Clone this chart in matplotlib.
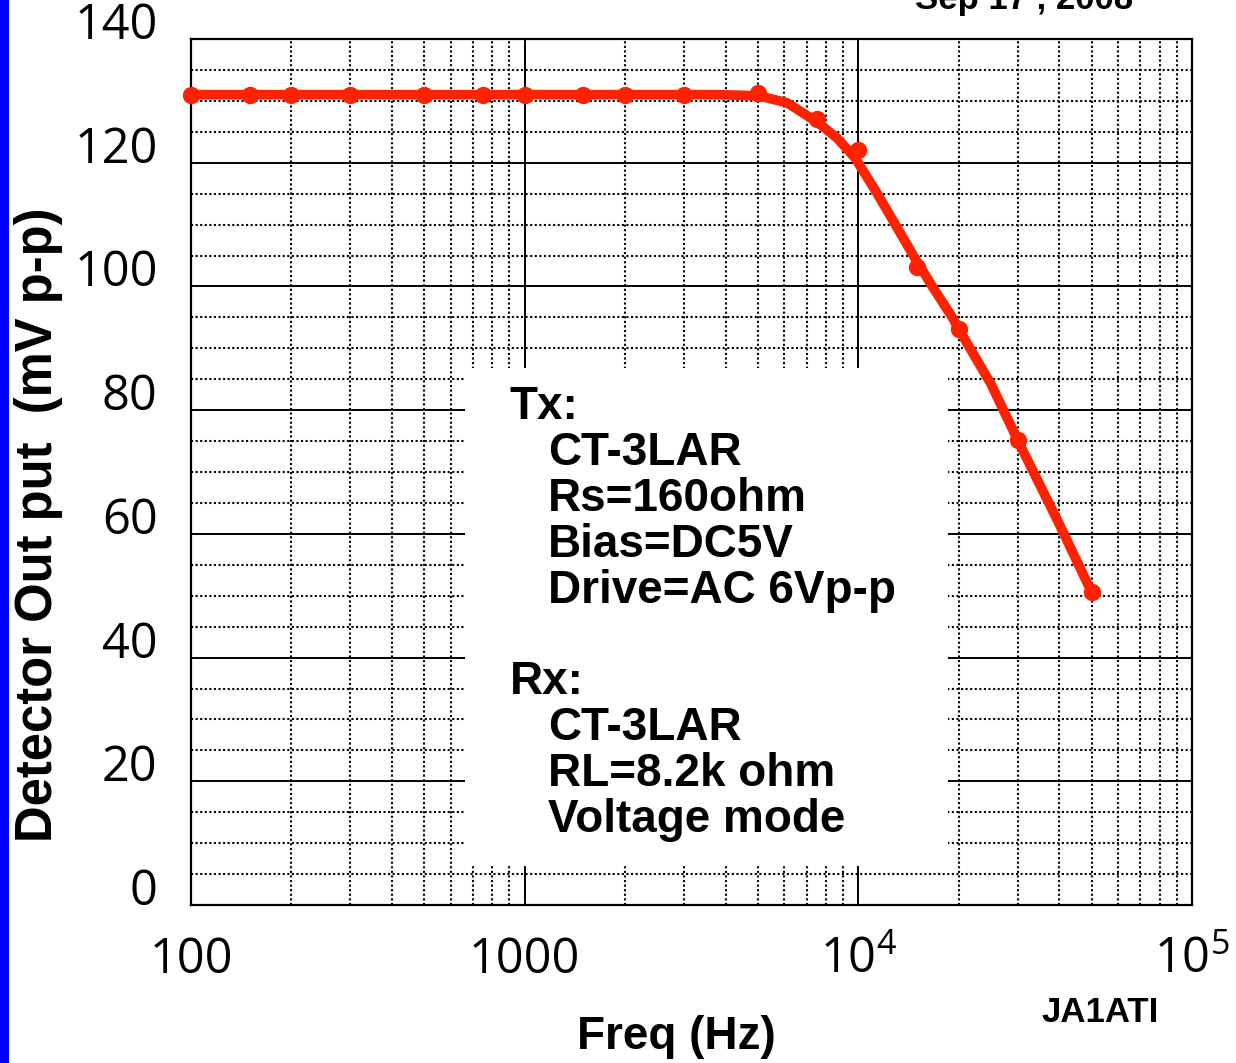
import matplotlib
matplotlib.use("Agg")
import matplotlib.pyplot as plt
from matplotlib.patches import Rectangle
from matplotlib.ticker import FixedLocator, NullFormatter

plt.rcParams['font.family'] = ['Liberation Sans', 'DejaVu Sans']
plt.rcParams['mathtext.fontset'] = 'custom'
plt.rcParams['mathtext.rm'] = 'Open Sans'
plt.rcParams['mathtext.default'] = 'rm'

# measured points (Hz, mV p-p)
freq = [100, 150, 200, 300, 500, 750, 1000, 1500, 2000, 3000, 5000, 7500, 10000,
        15000, 20000, 30000, 50000]
mv = [131, 131, 131, 131, 131, 131, 131, 131, 131, 131, 131.2, 127.1, 122.1,
      103.2, 93.1, 75.2, 50.6]

# hand-drawn fit curve
curve_freq = [100, 3000, 3850, 5040, 6110, 7515, 8630, 9770, 11370, 12880, 14580,
              16620, 19080, 20000, 25000, 30000, 40000, 50000]
curve_mv = [131, 131, 131, 130.8, 129.7, 126.6, 124.0, 120.8, 115.1, 110.1, 105.1,
            100.1, 95.1, 93.1, 84.2, 75.2, 61.6, 50.6]

ytick_vals = [0, 20, 40, 60, 80, 100, 120, 140]
xtick_vals = [100, 1000, 10000, 100000]
xtick_labels = ['100', '1000', '$10^4$', '$10^5$']

tx_lines = ['CT-3LAR', 'Rs=160ohm', 'Bias=DC5V', 'Drive=AC 6Vp-p']
rx_lines = ['CT-3LAR', 'RL=8.2k ohm', 'Voltage mode']

W, H = 1236, 1063
red = '#ff2200'

fig = plt.figure(figsize=(W / 100, H / 100), dpi=100)
ax = fig.add_axes([191 / W, 1 - 905 / H, (1192 - 191) / W, (905 - 39) / H])

ax.set_xscale('log')
ax.set_xlim(100, 100000)
ax.set_ylim(0, 140)

# grid: solid majors, dotted minors
ax.set_axisbelow(True)
ax.xaxis.set_major_locator(FixedLocator(xtick_vals))
ax.xaxis.set_minor_locator(FixedLocator([m * 10 ** d for d in (2, 3, 4) for m in range(2, 10)]))
ax.xaxis.set_minor_formatter(NullFormatter())
ax.yaxis.set_major_locator(FixedLocator(ytick_vals))
ax.yaxis.set_minor_locator(FixedLocator([v for v in range(5, 140, 5) if v % 20]))
ax.grid(which='major', color='black', lw=1.4, ls='-')
ax.grid(which='minor', color='black', lw=1.5, ls=(0, (1, 1.2)))
ax.tick_params(which='both', length=0)
ax.set_xticklabels(xtick_labels)
ax.tick_params(axis='x', labelsize=35, pad=22)
ax.tick_params(axis='y', labelsize=35, pad=24)
for t in ax.get_xticklabels() + ax.get_yticklabels():
    t.set_fontfamily('Open Sans')
for t in ax.get_yticklabels():
    t.set_va('baseline')
for s in ax.spines.values():
    s.set_linewidth(1.6)

# white panel behind the notes
ax.add_patch(Rectangle((662, 6.3), 18560 - 662, 86.8 - 6.3, facecolor='white',
                       edgecolor='none', zorder=1))

ax.plot(curve_freq, curve_mv, color=red, lw=7, solid_capstyle='round',
        solid_joinstyle='round', zorder=3, clip_on=False)
ax.plot(freq, mv, 'o', color=red, ms=11.5, zorder=4, clip_on=False)


def px(x, y):
    return x / W, 1 - y / H


# notes
fig.text(*px(510, 419), 'Tx:', fontsize=33, fontweight='bold')
for i, s in enumerate(tx_lines):
    fig.text(*px(548, 465 + i * 46), s, fontsize=33, fontweight='bold')
fig.text(*px(510, 694), 'Rx:', fontsize=33, fontweight='bold')
for i, s in enumerate(rx_lines):
    fig.text(*px(548, 740 + i * 46), s, fontsize=33, fontweight='bold')

fig.text(*px(39, 525), 'Detector Out put  (mV p-p)', fontsize=36.5, fontweight='bold',
         rotation=90, ha='center', va='center')
fig.text(*px(676, 1037), 'Freq (Hz)', fontsize=33, fontweight='bold',
         ha='center', va='center')
fig.text(*px(1100, 1013), 'JA1ATI', fontsize=25, fontweight='bold',
         ha='center', va='center')
fig.text(*px(1024, 9), 'Sep 17 , 2008', fontsize=25, fontweight='bold',
         ha='center', va='baseline')

# blue strip on the left edge
fig.patches.append(Rectangle((0, 0), 9 / W, 1, transform=fig.transFigure,
                             facecolor='#0000ff', edgecolor='none'))

fig.savefig('out.png', dpi=100)
